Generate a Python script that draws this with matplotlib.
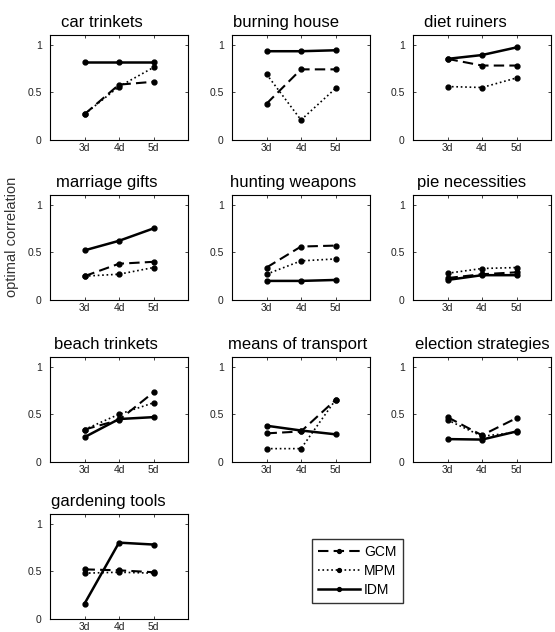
import matplotlib
matplotlib.use("Agg")
import matplotlib.pyplot as plt
import numpy as np

plt.rcParams["font.family"] = ["Liberation Sans", "DejaVu Sans"]

days = [3, 4, 5]
day_labels = ["3d", "4d", "5d"]

titles = [
    "car trinkets", "burning house", "diet ruiners",
    "marriage gifts", "hunting weapons", "pie necessities",
    "beach trinkets", "means of transport", "election strategies",
    "gardening tools",
]

gcm = [
    [0.27, 0.58, 0.61],
    [0.38, 0.74, 0.74],
    [0.85, 0.78, 0.78],
    [0.25, 0.38, 0.40],
    [0.34, 0.56, 0.57],
    [0.23, 0.27, 0.29],
    [0.34, 0.44, 0.73],
    [0.30, 0.32, 0.65],
    [0.47, 0.28, 0.46],
    [0.52, 0.51, 0.49],
]
mpm = [
    [0.27, 0.56, 0.76],
    [0.69, 0.21, 0.54],
    [0.56, 0.55, 0.65],
    [0.25, 0.27, 0.34],
    [0.27, 0.41, 0.43],
    [0.28, 0.33, 0.34],
    [0.34, 0.50, 0.62],
    [0.14, 0.14, 0.65],
    [0.44, 0.27, 0.31],
    [0.48, 0.49, 0.48],
]
idm = [
    [0.82, 0.82, 0.82],
    [0.93, 0.93, 0.94],
    [0.85, 0.89, 0.97],
    [0.52, 0.62, 0.75],
    [0.20, 0.20, 0.21],
    [0.21, 0.26, 0.26],
    [0.26, 0.45, 0.47],
    [0.38, 0.33, 0.29],
    [0.24, 0.235, 0.32],
    [0.16, 0.80, 0.78],
]

W, H = 555, 632
fig = plt.figure(figsize=(W / 100, H / 100), dpi=100)

col_left = [50, 232, 413]
row_top = [35, 195, 357, 514]
ax_w, ax_h = 138, 105
# titles in the original sit a little left of centre (pixels)
title_shift = [-17, -15, -17, -12, -8, -10, -13, -3, 0, -11]

lines = None
for i, title in enumerate(titles):
    r, c = divmod(i, 3)
    ax = fig.add_axes([col_left[c] / W, 1 - (row_top[r] + ax_h) / H,
                       ax_w / W, ax_h / H])
    l1, = ax.plot(days, gcm[i], "k--", marker="o", markersize=3.5,
                  linewidth=1.5, dashes=(5, 2.5))
    l2, = ax.plot(days, mpm[i], "k:", marker="o", markersize=3.5,
                  linewidth=1.2)
    l3, = ax.plot(days, idm[i], "k-", marker="o", markersize=3.5,
                  linewidth=1.8)
    lines = (l1, l2, l3)
    ax.set_xlim(2, 6)
    ax.set_ylim(0, 1.1)
    ax.set_xticks(days)
    ax.set_xticklabels(day_labels)
    ax.set_yticks([0, 0.5, 1])
    ax.set_yticklabels(["0", "0.5", "1"])
    ax.tick_params(direction="in", top=True, right=True, labelsize=7.5,
                   length=2.5, width=0.6, colors="#222222")
    ax.tick_params(axis="x", pad=2.5)
    ax.tick_params(axis="y", pad=6)
    for s in ax.spines.values():
        s.set_linewidth(0.8)
    t = ax.set_title(title, fontsize=12, pad=6)
    t.set_x(0.5 + title_shift[i] / ax_w)

fig.text(12 / W, 1 - 237 / H, "optimal correlation", rotation=90,
         ha="center", va="center", fontsize=10.5, color="#333333")

fig.legend(lines, ["GCM", "MPM", "IDM"], loc="upper left",
           bbox_to_anchor=(312 / W, 1 - 539 / H), borderaxespad=0,
           fontsize=10, frameon=True, fancybox=False, edgecolor="black",
           handlelength=3.0, borderpad=0.45, labelspacing=0.35,
           handletextpad=0.3, markerscale=0.8)

fig.savefig("out.png", dpi=100)
